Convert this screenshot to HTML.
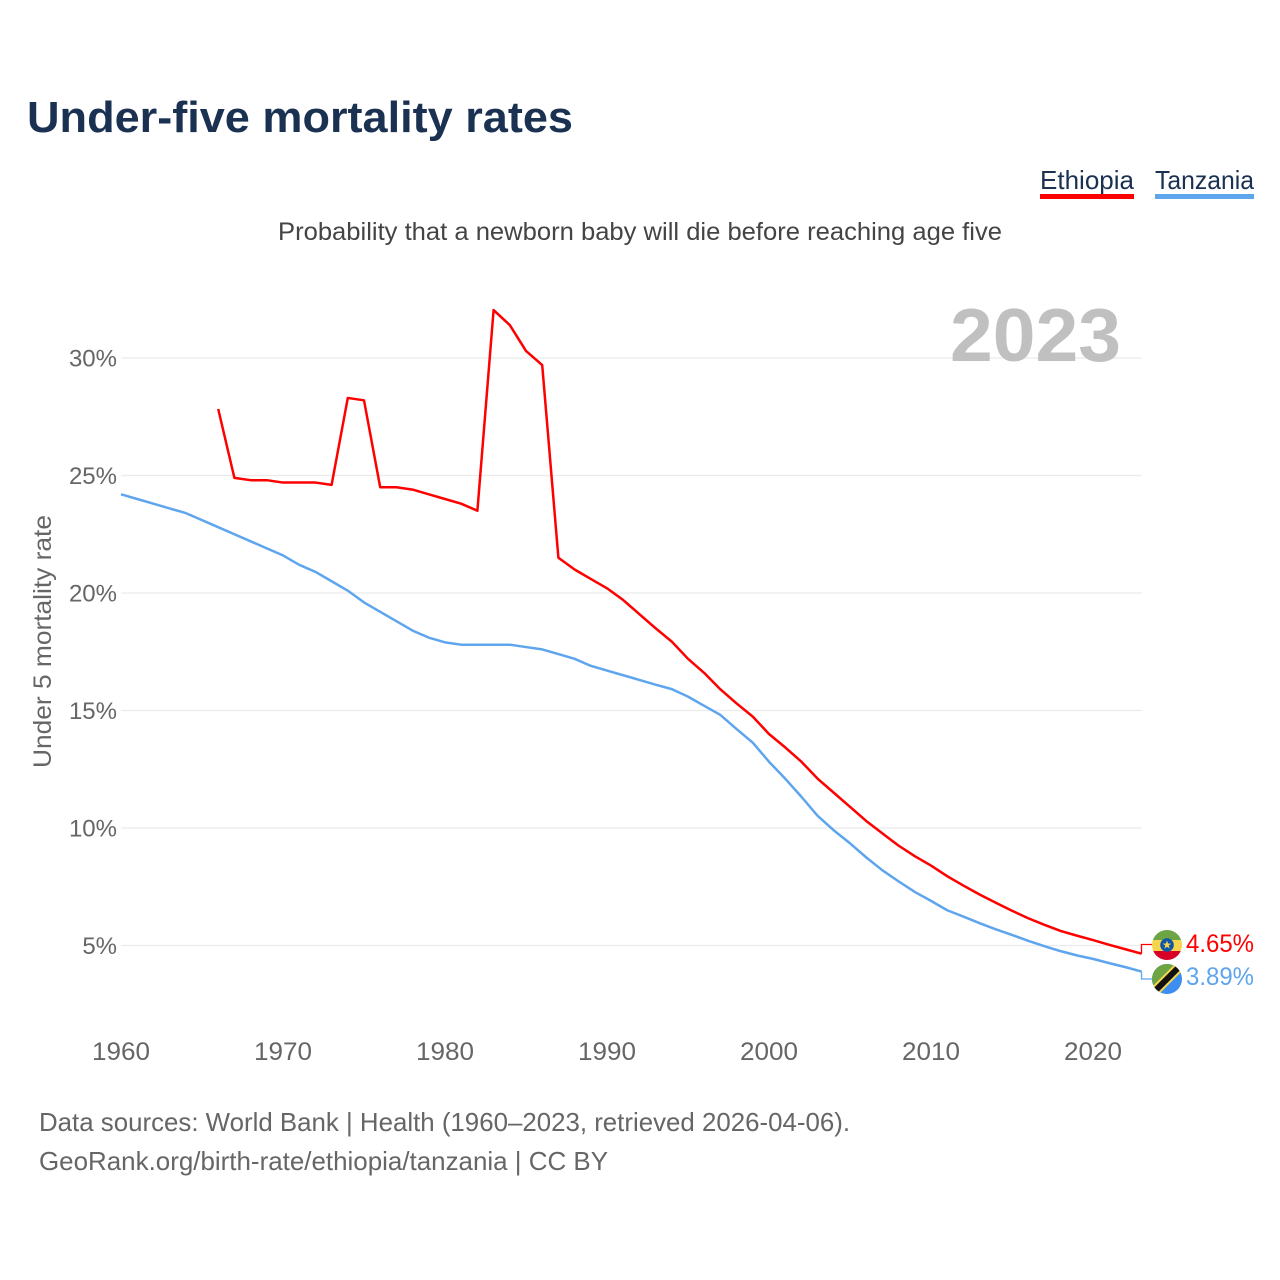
<!DOCTYPE html>
<html lang="en">
<head>
<meta charset="utf-8">
<title>Under-five mortality rates</title>
<style>
html,body{margin:0;padding:0;background:#fff;}
svg{display:block;font-family:"Liberation Sans",sans-serif;}
</style>
</head>
<body>
<svg id="chart" xmlns="http://www.w3.org/2000/svg" width="1280" height="1280" viewBox="0 0 1280 1280">
  <defs>
    <clipPath id="clip-et"><circle cx="1167" cy="945" r="15"/></clipPath>
    <clipPath id="clip-tz"><circle cx="1167" cy="979" r="15"/></clipPath>
  </defs>
  <rect width="1280" height="1280" fill="#fff"/>
  <text x="27" y="132" font-size="44" font-weight="700" fill="#1a3152" textLength="546" lengthAdjust="spacingAndGlyphs">Under-five mortality rates</text>
  <text x="1040" y="189" font-size="26" fill="#1a3152" textLength="94" lengthAdjust="spacingAndGlyphs">Ethiopia</text>
  <rect x="1040" y="194" width="94" height="5" fill="#ff0000"/>
  <text x="1155" y="189" font-size="26" fill="#1a3152" textLength="99" lengthAdjust="spacingAndGlyphs">Tanzania</text>
  <rect x="1155" y="194" width="99" height="5" fill="#5ea5ee"/>
  <text x="278" y="240" font-size="25" fill="#444" textLength="724" lengthAdjust="spacingAndGlyphs">Probability that a newborn baby will die before reaching age five</text>
  <g id="grid"></g>
  <text x="950" y="361" font-size="75" font-weight="700" fill="#c0c0c0" textLength="171" lengthAdjust="spacingAndGlyphs">2023</text>
  <g id="yticks"></g>
  <g id="xticks"></g>
  <text transform="translate(51,768) rotate(-90)" font-size="25" fill="#666" textLength="253" lengthAdjust="spacingAndGlyphs">Under 5 mortality rate</text>
  <g id="series"></g>
  <g clip-path="url(#clip-et)">
    <rect x="1152" y="930" width="30" height="10" fill="#6ea544"/>
    <rect x="1152" y="940" width="30" height="11" fill="#f4d54c"/>
    <rect x="1152" y="951" width="30" height="9" fill="#d80027"/>
    <circle cx="1167" cy="945" r="6.8" fill="#0f55a8"/>
    <polygon points="1167,940.5 1168.06,943.54 1171.28,943.61 1168.71,945.56 1169.65,948.64 1167,946.8 1164.35,948.64 1165.29,945.56 1162.72,943.61 1165.94,943.54" fill="#f4d54c"/>
  </g>
  <g clip-path="url(#clip-tz)">
    <rect x="1152" y="964" width="30" height="30" fill="#3d8ef0"/>
    <polygon points="1152,964 1182,964 1152,994" fill="#6ea544"/>
    <line x1="1152" y1="994" x2="1182" y2="964" stroke="#f4d54c" stroke-width="10"/>
    <line x1="1152" y1="994" x2="1182" y2="964" stroke="#111" stroke-width="6"/>
  </g>
  <text x="1186" y="952" font-size="25" fill="#ff0000" textLength="68" lengthAdjust="spacingAndGlyphs">4.65%</text>
  <text x="1186" y="985" font-size="25" fill="#5ea5ee" textLength="68" lengthAdjust="spacingAndGlyphs">3.89%</text>
  <text x="39" y="1131" font-size="26" fill="#666" textLength="811" lengthAdjust="spacingAndGlyphs">Data sources: World Bank | Health (1960–2023, retrieved 2026-04-06).</text>
  <text x="39" y="1170" font-size="26" fill="#666" textLength="569" lengthAdjust="spacingAndGlyphs">GeoRank.org/birth-rate/ethiopia/tanzania | CC BY</text>
</svg>
<script>
var yTickValues = [5, 10, 15, 20, 25, 30];
var xTickYears = [1960, 1970, 1980, 1990, 2000, 2010, 2020];
var ethiopiaStartYear = 1966;
var ethiopiaValues = [27.83, 24.9, 24.8, 24.8, 24.7, 24.7, 24.7, 24.6, 28.3, 28.2, 24.5, 24.5, 24.4, 24.2, 24.0, 23.8, 23.5, 32.04, 31.4, 30.3, 29.7, 21.5, 21.0, 20.6, 20.2, 19.7, 19.1, 18.5, 17.93, 17.2, 16.6, 15.9, 15.3, 14.74, 14.0, 13.43, 12.82, 12.1, 11.5, 10.9, 10.3, 9.77, 9.25, 8.8, 8.4, 7.95, 7.55, 7.17, 6.82, 6.48, 6.16, 5.88, 5.62, 5.42, 5.23, 5.03, 4.84, 4.65];
var tanzaniaStartYear = 1960;
var tanzaniaValues = [24.2, 24.0, 23.8, 23.6, 23.4, 23.1, 22.8, 22.5, 22.2, 21.9, 21.6, 21.2, 20.9, 20.5, 20.1, 19.6, 19.2, 18.8, 18.4, 18.1, 17.9, 17.8, 17.8, 17.8, 17.8, 17.7, 17.6, 17.4, 17.2, 16.9, 16.7, 16.5, 16.3, 16.1, 15.91, 15.59, 15.2, 14.81, 14.21, 13.63, 12.82, 12.1, 11.33, 10.52, 9.9, 9.35, 8.75, 8.2, 7.73, 7.28, 6.9, 6.5, 6.23, 5.95, 5.69, 5.45, 5.2, 4.97, 4.76, 4.58, 4.43, 4.25, 4.08, 3.89];

var NS = 'http://www.w3.org/2000/svg';
function xScale(year) { return 121 + (year - 1960) * 16.2; }
function yScale(v) { return 945.5 - (v - 5) * 23.5; }
function make(tag, attrs, parent) {
  var el = document.createElementNS(NS, tag);
  for (var k in attrs) { el.setAttribute(k, attrs[k]); }
  parent.appendChild(el);
  return el;
}

var gridGroup = document.getElementById('grid');
var yGroup = document.getElementById('yticks');
yTickValues.forEach(function (v) {
  var line = make('line', {x1: 121.5, x2: 1142, y1: yScale(v), y2: yScale(v), stroke: '#ebebeb', 'stroke-width': 1.2}, gridGroup);
  
  
  var label = make('text', {x: 117, y: yScale(v) + 8.5, 'font-size': 24, fill: '#666', 'text-anchor': 'end'}, yGroup);
  
  
  label.textContent = v + '%';
});

var xGroup = document.getElementById('xticks');
xTickYears.forEach(function (yr) {
  var label = make('text', {x: xScale(yr), y: 1060, 'font-size': 25, fill: '#666', 'text-anchor': 'middle', textLength: 58, lengthAdjust: 'spacingAndGlyphs'}, xGroup);
  
  
  label.textContent = yr;
});

var seriesGroup = document.getElementById('series');
function pathFor(start, values) {
  return values.map(function (v, i) {
    return (i ? 'L' : 'M') + xScale(start + i).toFixed(2) + ' ' + yScale(v).toFixed(2);
  }).join(' ');
}
function leader(values, labelY, color) {
  var last = yScale(values[values.length - 1]);
  var el = make('path', {d: 'M1141.5 ' + last.toFixed(2) + ' V' + labelY + ' H1152', fill: 'none', stroke: color, 'stroke-width': 1.3}, seriesGroup);
  return el;
}

var tzLine = make('path', {d: pathFor(tanzaniaStartYear, tanzaniaValues), fill: 'none', stroke: '#5ea5ee', 'stroke-width': 2.5, 'stroke-linejoin': 'round'}, seriesGroup);


var etLine = make('path', {d: pathFor(ethiopiaStartYear, ethiopiaValues), fill: 'none', stroke: '#ff0000', 'stroke-width': 2.5, 'stroke-linejoin': 'round'}, seriesGroup);


var tzLeader = leader(tanzaniaValues, 979, '#5ea5ee');


var etLeader = leader(ethiopiaValues, 944.5, '#ff0000');


</script>
</body>
</html>
